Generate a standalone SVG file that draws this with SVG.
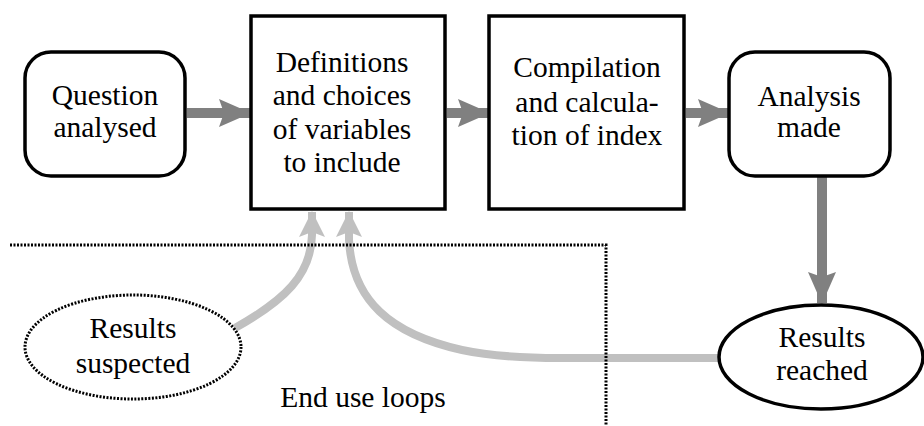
<svg xmlns="http://www.w3.org/2000/svg" width="924" height="426" viewBox="0 0 924 426">
<defs>
<style>
.box{fill:#fff;stroke:#000;stroke-width:3.5}
.t{font-size:29.5px;fill:#000;text-anchor:middle}
.dk{fill:none;stroke:#808080;stroke-width:10}
.lt{fill:none;stroke:#c0c0c0;stroke-width:8}
.dot{fill:none;stroke:#000;stroke-width:3;stroke-dasharray:2 1.5}
</style>
<marker id="ad" markerUnits="userSpaceOnUse" viewBox="0 0 32 28" refX="31" refY="14" markerWidth="32" markerHeight="28" orient="auto">
<path d="M0,0 L32,14 L0,28 L5,14 Z" fill="#808080"/>
</marker>
<marker id="al" markerUnits="userSpaceOnUse" viewBox="0 0 26 26" refX="25" refY="13" markerWidth="26" markerHeight="26" orient="auto">
<path d="M0,0 L26,13 L0,26 L5,13 Z" fill="#c0c0c0"/>
</marker>
</defs>
<g id="connectors">
<line class="dk" x1="187" y1="113" x2="250" y2="113" marker-end="url(#ad)"/>
<line class="dk" x1="447" y1="113" x2="489" y2="113" marker-end="url(#ad)"/>
<line class="dk" x1="686" y1="113" x2="729" y2="113" marker-end="url(#ad)"/>
<line class="dk" x1="822" y1="177" x2="822" y2="303" marker-end="url(#ad)"/>
<path class="lt" d="M235,328 C285,300 311,275 312,235 L312,212" marker-end="url(#al)"/>
<path class="lt" d="M720,358 L560,358 C520,358 490,356 462,350 C390,334 352,300 349,240 L349,212" marker-end="url(#al)"/>
</g>
<g id="boundary">
<polyline class="dot" points="10,245 606,245 606,426"/>
</g>
<g font-family="Liberation Serif, Tinos, DejaVu Serif, serif">
<g id="question">
<rect class="box" x="25" y="52" width="160" height="124" rx="26"/>
<text class="t" x="105" y="105">Question</text>
<text class="t" x="105" y="137">analysed</text>
</g>
<g id="definitions">
<rect class="box" x="251" y="16" width="194" height="193"/>
<text class="t" x="342" y="72">Definitions</text>
<text class="t" x="342" y="105">and choices</text>
<text class="t" x="342" y="139">of variables</text>
<text class="t" x="342" y="172">to include</text>
</g>
<g id="compilation">
<rect class="box" x="489" y="16" width="195" height="193"/>
<text class="t" x="587" y="77">Compilation</text>
<text class="t" x="587" y="112">and calcula-</text>
<text class="t" x="587" y="145">tion of index</text>
</g>
<g id="analysis">
<rect class="box" x="729" y="52" width="161" height="124" rx="26"/>
<text class="t" x="809" y="106">Analysis</text>
<text class="t" x="809" y="137">made</text>
</g>
<g id="suspected">
<ellipse class="dot" cx="133" cy="347" rx="108" ry="52"/>
<text class="t" x="133" y="338">Results</text>
<text class="t" x="133" y="373">suspected</text>
</g>
<g id="reached">
<ellipse class="box" cx="821" cy="357" rx="102" ry="52"/>
<text class="t" x="822" y="347">Results</text>
<text class="t" x="822" y="380">reached</text>
</g>
<g id="label">
<text class="t" x="363" y="407">End use loops</text>
</g>
</g>
</svg>
